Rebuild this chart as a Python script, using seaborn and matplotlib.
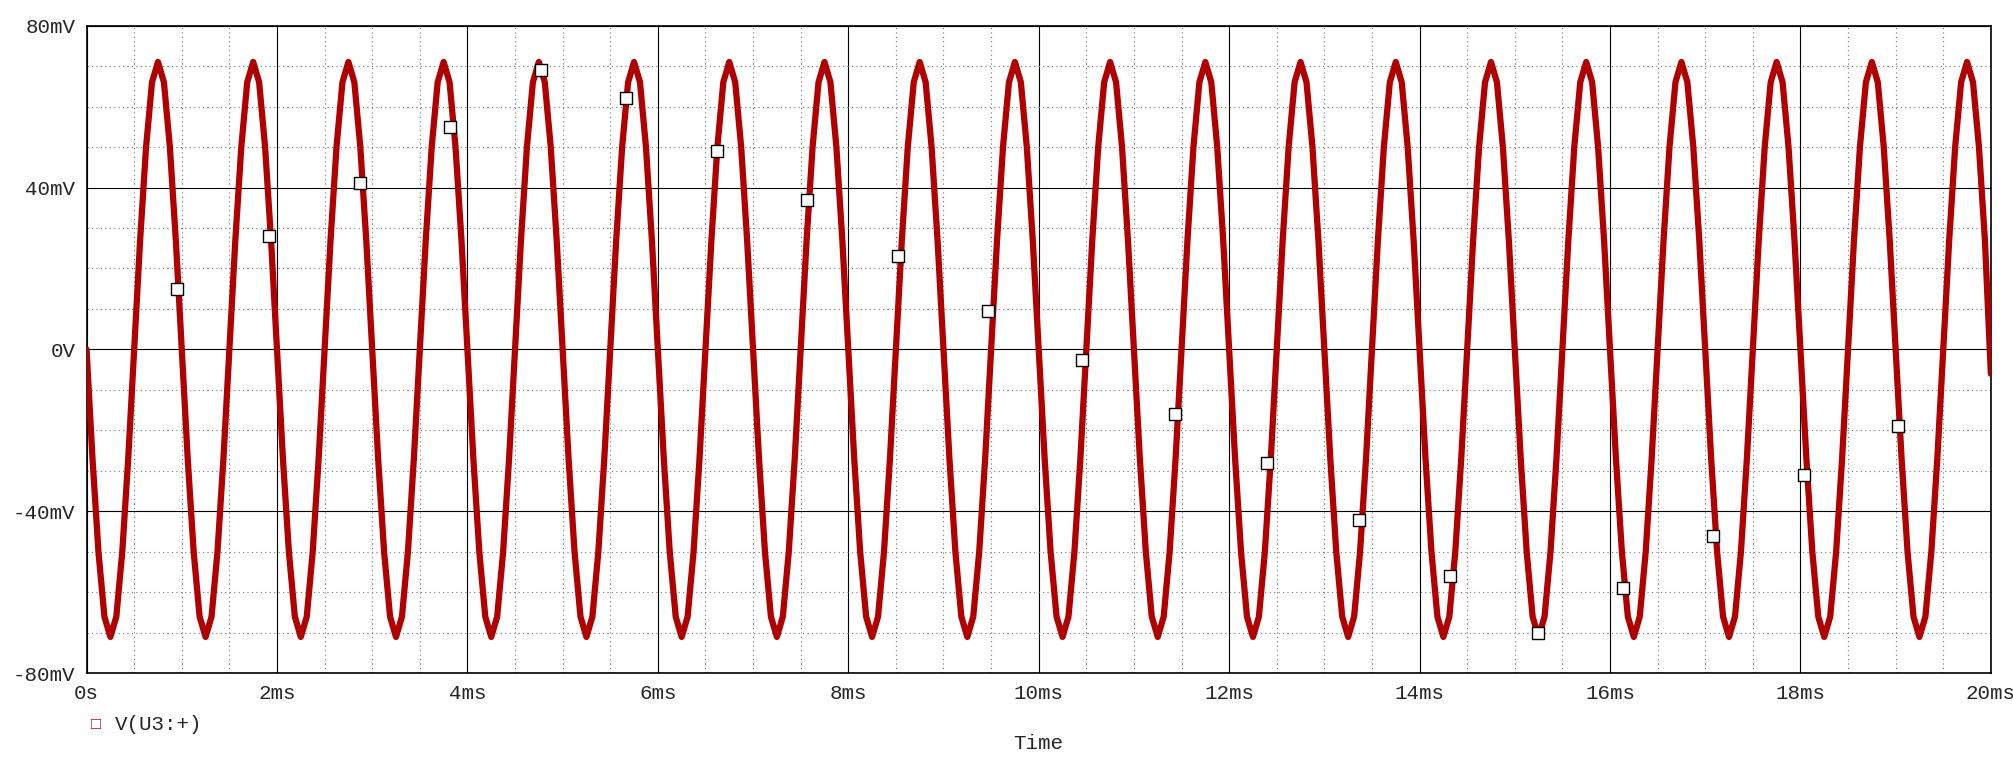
import numpy as np
import matplotlib
matplotlib.use("Agg")
import matplotlib.pyplot as plt
import seaborn as sns
from matplotlib.ticker import MultipleLocator, FuncFormatter

# one cycle shape (mV), 16 samples per 1 ms period
cycle_mv = [0, -27, -50, -66, -71, -66, -50, -27, 0, 27, 50, 66, 71, 66, 50, 27]
n_cycles = 20
end_mv = -6

# marker points on the trace (ms, mV)
mark_t = [0.95, 1.92, 2.87, 3.82, 4.77, 5.67, 6.62, 7.57, 8.52, 9.47, 10.45, 11.43,
          12.4, 13.36, 14.32, 15.24, 16.14, 17.08, 18.04, 19.02]
mark_v = [15, 28, 41, 55, 69, 62, 49, 37, 23, 9.5, -2.5, -16, -28, -42, -56, -70,
          -59, -46, -31, -19]

vals = np.array(cycle_mv * n_cycles + [end_mv], dtype=float)
t = np.linspace(0, 20, len(vals))

sns.set_style("white")
plt.rcParams['font.family'] = ['Liberation Mono', 'DejaVu Sans Mono']
fig = plt.figure(figsize=(20.13, 7.74), dpi=100)
ax = fig.add_axes([0.043, 0.13, 0.946, 0.837])

sns.lineplot(x=t, y=vals, ax=ax, color="#b00000", lw=4.5, zorder=3)
sns.scatterplot(x=mark_t, y=mark_v, ax=ax, marker="s", s=70, color="white",
                edgecolor="black", linewidth=1, zorder=4)

ax.set_xlim(0, 20)
ax.set_ylim(-80, 80)
ax.xaxis.set_major_locator(MultipleLocator(2))
ax.xaxis.set_minor_locator(MultipleLocator(0.5))
ax.yaxis.set_major_locator(MultipleLocator(40))
ax.yaxis.set_minor_locator(MultipleLocator(10))
ax.xaxis.set_major_formatter(FuncFormatter(lambda v, p: "0s" if v == 0 else f"{v:g}ms"))
ax.yaxis.set_major_formatter(FuncFormatter(lambda v, p: "0V" if v == 0 else f"{v:g}mV"))
ax.grid(which="major", color="black", lw=0.8)
ax.grid(which="minor", color="#777777", lw=0.8, ls=(0, (1, 3)))
ax.tick_params(which="both", length=0, labelsize=15, pad=8)
for s in ax.spines.values():
    s.set_color("black"); s.set_linewidth(1.2)
ax.set_xlabel("Time", fontsize=15, labelpad=22)
ax.set_ylabel("")

fig.text(0.045, 0.064, "\u25a1", color="#d00000", fontsize=12, va="center")
fig.text(0.057, 0.064, "V(U3:+)", fontsize=15, va="center")

fig.savefig("out.png", dpi=100, facecolor="white")
